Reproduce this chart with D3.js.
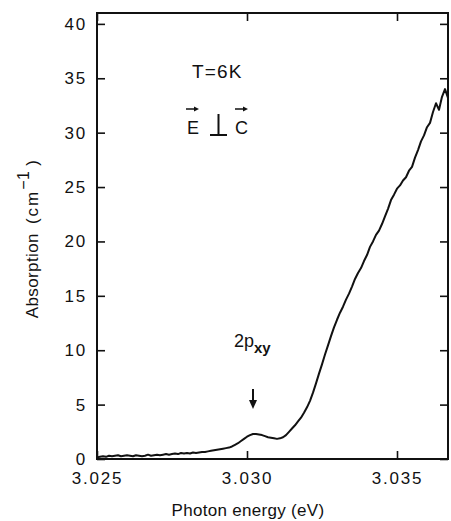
<!DOCTYPE html>
<html lang="en">
<head>
    <meta charset="UTF-8" />
    <title>Absorption vs photon energy</title>
    <script src="https://d3js.org/d3.v7.min.js"></script>
    <style>
        body {
            margin: 0;
            background: #fff;
        }
        text {
            font-family: "Liberation Sans", Arial, sans-serif;
            fill: #111;
        }
    </style>
</head>
<body>
<svg id="chart"></svg>

<script>
    // photon energy (eV), step 0.0001
    const energy = d3.range(0, 118).map(i => +(3.025 + i * 0.0001).toFixed(4));

    // absorption (cm^-1)
    const absorption = [
        0.15, 0.2, 0.25, 0.2, 0.3, 0.25, 0.3, 0.35, 0.25, 0.3,
        0.35, 0.3, 0.25, 0.35, 0.3, 0.25, 0.3, 0.4, 0.3, 0.35,
        0.4, 0.35, 0.4, 0.45, 0.4, 0.45, 0.5, 0.45, 0.55, 0.5,
        0.55, 0.5, 0.6, 0.55, 0.6, 0.65, 0.65, 0.7, 0.75, 0.8,
        0.85, 0.9, 0.95, 1.0, 1.05, 1.15, 1.3, 1.45, 1.65, 1.85,
        2.05, 2.2, 2.3, 2.3, 2.25, 2.2, 2.1, 2.0, 1.95, 1.9,
        1.85, 1.9, 2.0, 2.2, 2.5, 2.8, 3.1, 3.45, 3.8, 4.25,
        4.75, 5.35, 6.1, 6.95, 7.85, 8.7, 9.6, 10.45, 11.3, 12.1,
        12.8, 13.45, 14.0, 14.65, 15.2, 15.85, 16.55, 17.1, 17.55, 18.2,
        18.75, 19.5, 20.0, 20.6, 21.0, 21.6, 22.3, 23.0, 23.8, 24.3,
        24.85, 25.15, 25.6, 25.9, 26.5, 26.85, 27.7, 28.4, 29.2, 29.75,
        30.5, 30.9, 31.9, 32.7, 32.1, 33.3, 34.0, 33.2
    ];

    const xTicks = [3.025, 3.030, 3.035];
    const yTicks = [0, 5, 10, 15, 20, 25, 30, 35, 40];

    const width = 451;
    const height = 521;
    const margin = { top: 13, right: 3, bottom: 62, left: 97 };

    const svg = d3.select("#chart")
        .attr("width", width)
        .attr("height", height);

    const x = d3.scaleLinear()
        .domain([3.025, 3.0367])
        .range([margin.left, width - margin.right]);

    const y = d3.scaleLinear()
        .domain([0, 41])
        .range([height - margin.bottom, margin.top]);

    const tick = 8;

    // frame
    svg.append("rect")
        .attr("x", margin.left)
        .attr("y", margin.top)
        .attr("width", width - margin.left - margin.right)
        .attr("height", height - margin.top - margin.bottom)
        .attr("fill", "none")
        .attr("stroke", "#111")
        .attr("stroke-width", 2);

    // axes with inward ticks
    svg.append("g")
        .attr("transform", `translate(0,${height - margin.bottom})`)
        .call(d3.axisBottom(x).tickValues(xTicks).tickSize(-tick).tickPadding(13).tickFormat(d3.format(".3f")))
        .call(g => g.select(".domain").remove());

    svg.append("g")
        .attr("transform", `translate(0,${margin.top})`)
        .call(d3.axisTop(x).tickValues(xTicks).tickSize(-tick).tickFormat(""))
        .call(g => g.select(".domain").remove());

    svg.append("g")
        .attr("transform", `translate(${margin.left},0)`)
        .call(d3.axisLeft(y).tickValues(yTicks).tickSize(-tick).tickPadding(10))
        .call(g => g.select(".domain").remove());

    svg.append("g")
        .attr("transform", `translate(${width - margin.right},0)`)
        .call(d3.axisRight(y).tickValues(yTicks).tickSize(-tick).tickFormat(""))
        .call(g => g.select(".domain").remove());

    svg.selectAll(".tick line")
        .attr("stroke", "#111")
        .attr("stroke-width", 1.6);

    svg.selectAll(".tick text")
        .attr("font-size", 17)
        .attr("letter-spacing", 1.8)
        .attr("font-family", "'Liberation Sans', Arial, sans-serif")
        .attr("fill", "#111");

    // curve
    const line = d3.line()
        .x((d, i) => x(energy[i]))
        .y(d => y(d));

    svg.append("path")
        .datum(absorption)
        .attr("fill", "none")
        .attr("stroke", "#111")
        .attr("stroke-width", 2)
        .attr("stroke-linejoin", "round")
        .attr("d", line);

    // axis titles
    svg.append("text")
        .attr("x", 248)
        .attr("y", 516)
        .attr("text-anchor", "middle")
        .attr("font-size", 17)
        .attr("letter-spacing", 0.3)
        .text("Photon energy (eV)");

    const yTitle = svg.append("text")
        .attr("transform", "translate(38,239) rotate(-90)")
        .attr("text-anchor", "middle")
        .attr("font-size", 17)
        .attr("letter-spacing", 0.4);
    yTitle.append("tspan").text("Absorption");
    yTitle.append("tspan").attr("dx", 9).attr("letter-spacing", 2).text("(cm");
    yTitle.append("tspan").attr("font-size", 16).attr("dy", -9).text("−1");
    yTitle.append("tspan").attr("dy", 9).attr("dx", 5).text(")");

    // annotations
    svg.append("text")
        .attr("x", 192)
        .attr("y", 78)
        .attr("font-size", 19)
        .attr("letter-spacing", 1.2)
        .text("T=6K");

    const pol = svg.append("g");
    pol.append("text").attr("x", 187).attr("y", 134).attr("font-size", 18).text("E");
    pol.append("text").attr("x", 235).attr("y", 134).attr("font-size", 18).text("C");
    pol.append("path")
        .attr("d", "M210,135H227M218.5,135V114")
        .attr("stroke", "#111")
        .attr("stroke-width", 2)
        .attr("fill", "none");
    [[186, 199], [235, 248]].forEach(([a, b]) => {
        pol.append("path")
            .attr("d", `M${a},109H${b - 3}`)
            .attr("stroke", "#111")
            .attr("stroke-width", 1.5);
        pol.append("path")
            .attr("d", `M${b},109L${b - 5},106.5L${b - 5},111.5Z`)
            .attr("fill", "#111");
    });

    const lab = svg.append("text")
        .attr("x", 234)
        .attr("y", 347)
        .attr("font-size", 18);
    lab.append("tspan").text("2p");
    lab.append("tspan").attr("font-size", 15).attr("dy", 6).attr("font-weight", "bold").text("xy");

    // arrow to the 2p peak
    const ax = x(3.0302);
    svg.append("path")
        .attr("d", `M${ax},389V402`)
        .attr("stroke", "#111")
        .attr("stroke-width", 2);
    svg.append("path")
        .attr("d", `M${ax},409L${ax - 4},400L${ax + 4},400Z`)
        .attr("fill", "#111");
</script>
</body>
</html>
